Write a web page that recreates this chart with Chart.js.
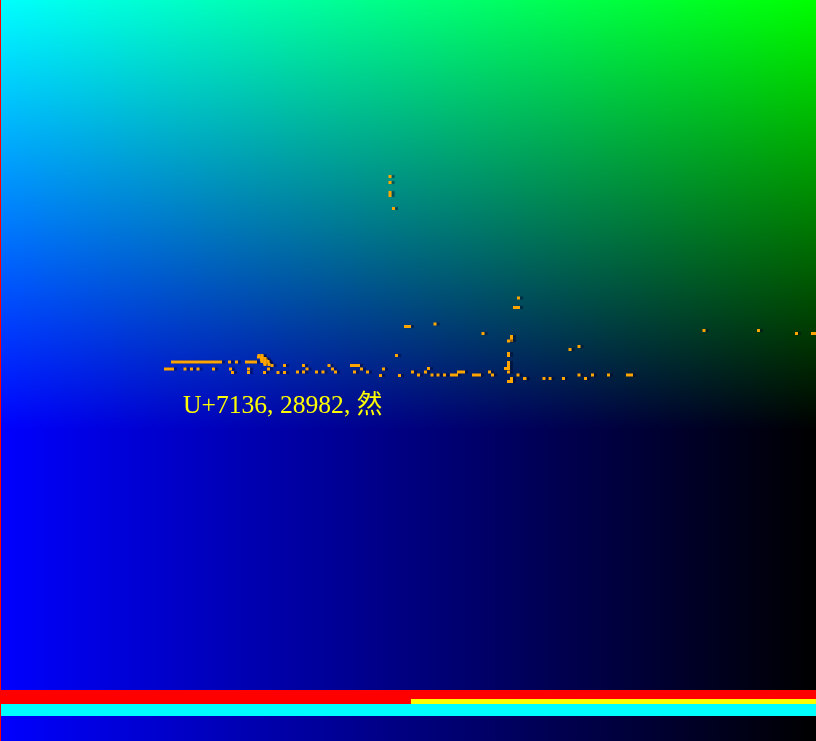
<!DOCTYPE html>
<html>
<head>
<meta charset="utf-8">
<script src="https://cdn.jsdelivr.net/npm/chart.js@4"></script>
<style>
html,body{margin:0;padding:0;background:#000;overflow:hidden;}
#wrap{position:relative;width:816px;height:741px;}
</style>
</head>
<body>
<div id="wrap"><canvas id="c"></canvas></div>
<script>
// ---- data (pixel-space coordinates) ----
const pointX = [185,191.5,198,213.5,229.5,236.5,259,262,262,265,262,265,268,265,269,272,
  230.5,232.5,248.5,248.5,268.5,264.5,278,284.5,284.5,
  303.5,307,297.5,303.5,316.5,323,329,332.5,335.5,361.5,354.5,367.5,380.5,383.5,396.5,399.5,412.5,
  418.5,425.5,428.5,432,438,444.5,489.5,492.5,508.5,508.5,518,524.5,
  518.5,435,483,570,579,563.5,550,544,579,585.5,592.5,608.5,525,
  390,390,393.5,704,758.5,796.5];
const pointY = [369,369,369,369,362,362,355.5,355.5,358.5,358.5,361.5,361.5,361.5,364.5,364.5,365.5,
  369,372.5,369,372.5,369,372.5,372.5,372.5,365.5,
  365.5,369,372,372,372,372,365.5,369,372,369,372,372,375.5,369,355.5,375.5,372,
  375,372,368.5,375,375,375,372,375,341,372,375,378.5,
  298,324,333.5,349.5,346.5,378.5,378.5,378.5,375,378.5,375,375,378.5,
  176.5,182.5,208.5,330.5,330.5,333.5];
// short runs of marks: [x1, y1, x2, y2]
const runs = [
  [164,369,174,369],[171,362,222,362],[245,362,257,362],[350,365.5,360,365.5],
  [257,357,264,357],[260,360,268,360],[263,363,270,363],
  [450,375,458,375],[457,372,465,372],[472,375,481,375],
  [508.5,352,508.5,357],[508.5,361,508.5,370],[504,368.5,510,368.5],
  [511.5,377,511.5,383],[507,381.5,513,381.5],
  [513,307.5,520,307.5],[404,326.5,411,326.5],[511.5,335,511.5,342],
  [626,375,633,375],[390,191,390,197],[811,333.5,816,333.5]
];
// bottom bars: start, end, top, bottom
const barColors = ['#ff0000','#00ffff','#ffff00'];
const barStart  = [0, 1, 411];
const barEnd    = [816, 816, 816];
const barTop    = [690, 704, 699];
const barBottom = [704, 716, 704];
const codePoint = 0x7136;
const labelText = 'U+' + codePoint.toString(16).toUpperCase() + ', ' + codePoint + ', ' + String.fromCodePoint(codePoint);

// ---- build datasets ----
const pts = pointX.map((x,i)=>({x:x,y:pointY[i]}));
const runData = [];
runs.forEach(r=>{runData.push({x:r[0],y:r[1]});runData.push({x:r[2],y:r[3]});runData.push({x:null,y:null});});

const bgPlugin = {
  id:'bg',
  beforeDraw(chart){
    const {ctx, scales:{x,y}} = chart;
    ctx.save();
    const W = chart.width, H = chart.height;
    let g = ctx.createLinearGradient(0,0,W,0);
    g.addColorStop(0,'rgb(0,0,255)'); g.addColorStop(1,'rgb(0,0,0)');
    ctx.fillStyle = g; ctx.fillRect(0,0,W,H);
    ctx.globalCompositeOperation = 'lighter';
    g = ctx.createLinearGradient(0,0,0,H);
    g.addColorStop(0,'rgb(0,255,0)'); g.addColorStop(0.58,'rgb(0,0,0)'); g.addColorStop(1,'rgb(0,0,0)');
    ctx.fillStyle = g; ctx.fillRect(0,0,W,H);
    ctx.globalCompositeOperation = 'source-over';
    ctx.fillStyle = '#ff0000';
    ctx.fillRect(0,0,1,H);
    barColors.forEach((c,i)=>{
      const x0 = x.getPixelForValue(barStart[i]), x1 = x.getPixelForValue(barEnd[i]);
      const y0 = y.getPixelForValue(barTop[i]), y1 = y.getPixelForValue(barBottom[i]);
      ctx.fillStyle = c;
      ctx.fillRect(x0, y0, x1-x0, y1-y0);
    });
    ctx.restore();
  },
  beforeDatasetsDraw(chart){
    const ctx = chart.ctx;
    ctx.save();
    ctx.shadowColor = 'rgba(0,0,30,0.45)';
    ctx.shadowOffsetX = 3; ctx.shadowOffsetY = 0; ctx.shadowBlur = 1;
  },
  afterDatasetsDraw(chart){
    chart.ctx.restore();
  },
  afterDraw(chart){
    const {ctx, scales:{x,y}} = chart;
    ctx.save();
    ctx.font = '25.6px "Liberation Serif", "Noto Sans CJK SC", serif';
    ctx.fillStyle = '#ffff00';
    ctx.textBaseline = 'alphabetic';
    ctx.fillText(labelText, x.getPixelForValue(183), y.getPixelForValue(413));
    ctx.restore();
  }
};

new Chart(document.getElementById('c'), {
  type:'scatter',
  data:{datasets:[
    {label:'marks', data:pts, pointStyle:'rect', pointRadius:2.13, pointHoverRadius:2.13,
     pointBackgroundColor:'#ffa500', pointBorderWidth:0, showLine:false, clip:false},
    {label:'runs', type:'line', data:runData, borderColor:'#ffa500', borderWidth:3,
     borderCapStyle:'butt', pointRadius:0, spanGaps:false, fill:false, clip:false}
  ]},
  options:{
    responsive:true, maintainAspectRatio:false, animation:false,
    layout:{padding:0, autoPadding:false},
    plugins:{legend:{display:false}, tooltip:{enabled:false}},
    events:[],
    scales:{
      x:{type:'linear', min:0, max:816, display:false},
      y:{type:'linear', min:0, max:741, reverse:true, display:false}
    }
  },
  plugins:[bgPlugin]
});
</script>
</body>
</html>
